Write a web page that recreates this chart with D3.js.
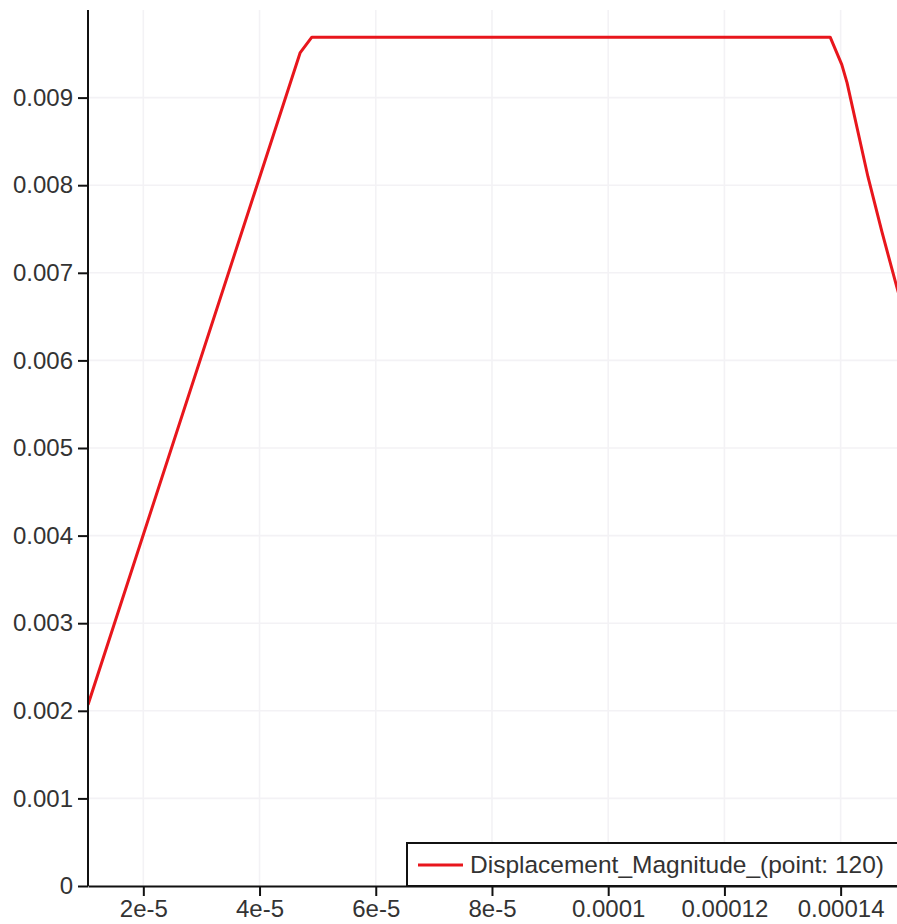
<!DOCTYPE html>
<html>
<head>
<meta charset="utf-8">
<script src="https://cdn.jsdelivr.net/npm/d3@7"></script>
<style>
  html, body { margin: 0; padding: 0; background: #fff; overflow: hidden; }
  svg { display: block; font-family: "Liberation Sans", Arial, sans-serif; }
</style>
</head>
<body>
<svg id="chart" width="897" height="924"></svg>
<script>
// ---- data ----
const seriesName = "Displacement_Magnitude_(point: 120)";
const times = [1.048e-5, 4.70e-5, 4.90e-5, 13.82e-5, 14.02e-5, 14.11e-5, 14.47e-5, 14.71e-5, 14.97e-5, 15.1e-5];
const values = [0.00207, 0.009514, 0.00969, 0.00969, 0.009377, 0.009171, 0.008097, 0.007469, 0.00683, 0.00652];
const xTickValues = [2e-5, 4e-5, 6e-5, 8e-5, 1e-4, 1.2e-4, 1.4e-4];
const xTickLabels = ["2e-5", "4e-5", "6e-5", "8e-5", "0.0001", "0.00012", "0.00014"];
const yTickValues = [0, 0.001, 0.002, 0.003, 0.004, 0.005, 0.006, 0.007, 0.008, 0.009];
const yTickLabels = ["0", "0.001", "0.002", "0.003", "0.004", "0.005", "0.006", "0.007", "0.008", "0.009"];
const xDomain = [1.048e-5, 1.497e-4];
const yDomain = [0, 0.01];

// ---- layout ----
const svg = d3.select("#chart");
const plotL = 88, plotR = 897, plotT = 10, plotB = 886;
const x = d3.scaleLinear().domain(xDomain).range([plotL, plotR]);
const y = d3.scaleLinear().domain(yDomain).range([plotB, plotT]);

svg.append("defs").append("clipPath").attr("id", "plotclip")
  .append("rect").attr("x", plotL).attr("y", 0).attr("width", plotR - plotL).attr("height", plotB);

// grid
const grid = svg.append("g").attr("stroke", "#f3f2f5").attr("stroke-width", 1.6);
grid.selectAll("line.vx").data(xTickValues).join("line")
  .attr("x1", d => x(d)).attr("x2", d => x(d)).attr("y1", plotT).attr("y2", plotB);
grid.selectAll("line.hy").data(yTickValues.slice(1)).join("line")
  .attr("x1", plotL).attr("x2", plotR).attr("y1", d => y(d)).attr("y2", d => y(d));

// line
const line = d3.line().x((d, i) => x(times[i])).y(d => y(d));
svg.append("path").datum(values)
  .attr("clip-path", "url(#plotclip)")
  .attr("fill", "none").attr("stroke", "#e8161c").attr("stroke-width", 3)
  .attr("stroke-linejoin", "round")
  .attr("d", line);

// axes
const xAxis = d3.axisBottom(x).tickValues(xTickValues)
  .tickFormat((d, i) => xTickLabels[i]).tickSize(10).tickSizeOuter(0).tickPadding(4);
const yAxis = d3.axisLeft(y).tickValues(yTickValues)
  .tickFormat((d, i) => yTickLabels[i]).tickSize(10).tickSizeOuter(0).tickPadding(5);

const gx = svg.append("g").attr("transform", `translate(0,${plotB})`).call(xAxis);
const gy = svg.append("g").attr("transform", `translate(${plotL},0)`).call(yAxis);
[gx, gy].forEach(g => {
  g.select(".domain").attr("stroke", "#111").attr("stroke-width", 2);
  g.selectAll(".tick line").attr("stroke", "#111").attr("stroke-width", 2);
  g.selectAll(".tick text").attr("fill", "#333").attr("font-size", 24)
    .attr("font-family", "'Liberation Sans', Arial, sans-serif");
});
gy.select(".domain").attr("d", `M0,${plotT}V${plotB}`);

// legend
const lg = svg.append("g");
lg.append("rect").attr("x", 407).attr("y", 843).attr("width", 560).attr("height", 43)
  .attr("fill", "#fff").attr("stroke", "#111").attr("stroke-width", 2);
lg.append("line").attr("x1", 418).attr("x2", 463).attr("y1", 865).attr("y2", 865)
  .attr("stroke", "#e8161c").attr("stroke-width", 3);
lg.append("text").attr("x", 470).attr("y", 873).attr("font-size", 24.5)
  .attr("fill", "#333").text(seriesName);
</script>
</body>
</html>
